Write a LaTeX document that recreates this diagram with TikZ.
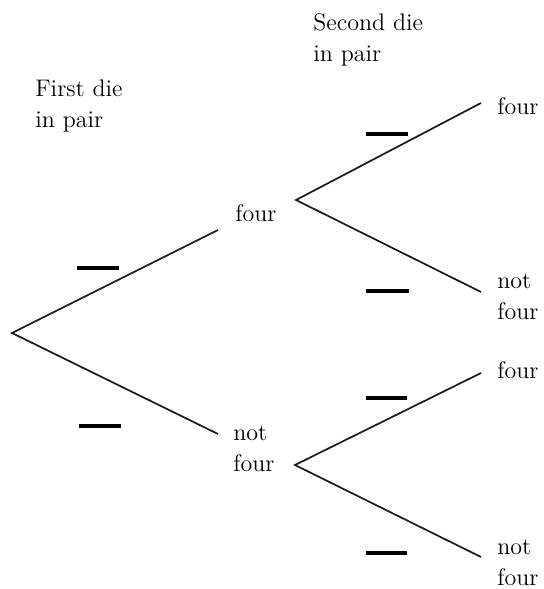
\documentclass[tikz,border=0pt]{standalone}
\begin{document}
\begin{tikzpicture}[x=0.5pt,y=-0.5pt,
  branch/.style={line width=0.85pt,black!90},
  blank/.style={line width=2pt,black},
  lbl/.style={inner sep=0pt,anchor=west,align=left,font=\rmfamily\fontsize{12}{15.5}\selectfont,text=black}]
\useasboundingbox (0,0) rectangle (543,589);
% branch points
\coordinate (root) at (12,333);
\coordinate (aEnd) at (218,230);
\coordinate (bEnd) at (218,434);
\coordinate (a) at (296,200);
\coordinate (b) at (295,465);
\coordinate (aa) at (481,103);
\coordinate (ab) at (481,292);
\coordinate (ba) at (481,373);
\coordinate (bb) at (481,557);
% labels
\node[lbl] (t1) at (35,106) {First die\\in pair};
\node[lbl] (t2) at (313,40) {Second die\\in pair};
\node[lbl] (nA) at (235,213) {four};
\node[lbl] (nB) at (233,449) {not\\four};
\node[lbl] (nAA) at (497,106) {four};
\node[lbl] (nAB) at (497,297) {not\\four};
\node[lbl] (nBA) at (497,370) {four};
\node[lbl] (nBB) at (497,563) {not\\four};
% branches
\draw[branch] (aEnd) -- (root) -- (bEnd);
\draw[branch] (aa) -- (a) -- (ab);
\draw[branch] (ba) -- (b) -- (bb);
% blanks
\draw[blank] (77,268) -- (119,268);
\draw[blank] (79,426) -- (121,426);
\draw[blank] (366,134) -- (408,134);
\draw[blank] (366,291) -- (409,291);
\draw[blank] (366,398) -- (407,398);
\draw[blank] (366,553) -- (407,553);
\end{tikzpicture}
\end{document}
